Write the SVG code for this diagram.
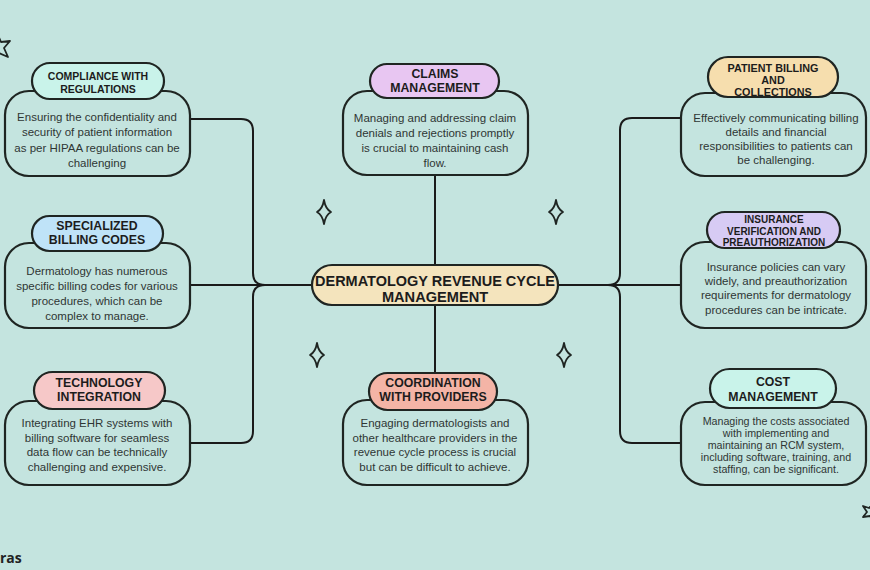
<svg xmlns="http://www.w3.org/2000/svg" width="870" height="570" viewBox="0 0 870 570">
<defs>
<style>
.bg{fill:#C4E4DF}
.body{fill:#C4E4DF;stroke:#1f2522;stroke-width:2.2}
.hdr{stroke:#1f2522;stroke-width:2.2}
.ht{font-family:"Liberation Sans",Arial,sans-serif;font-weight:700;fill:#1c1c1c;text-anchor:middle;dominant-baseline:central}
.bt{font-family:"Liberation Sans",Arial,sans-serif;font-size:11.5px;fill:#2f3634;text-anchor:middle;dominant-baseline:central}
.sm{font-size:10.7px}
.ln{fill:none;stroke:#1a1a1a;stroke-width:2}
.spk{fill:none;stroke:#1f2522;stroke-width:1.8;stroke-linejoin:round}
</style>
<path id="sparkle" d="M0,-12 Q1.5,-3 7,0 Q1.5,3 0,12 Q-1.5,3 -7,0 Q-1.5,-3 0,-12 Z"/>
</defs>
<rect class="bg" x="0" y="0" width="870" height="570"/>

<g id="connectors">
<line class="ln" x1="435" y1="175" x2="435" y2="266"/>
<line class="ln" x1="435" y1="304" x2="435" y2="374"/>
<line class="ln" x1="190" y1="285" x2="313" y2="285"/>
<line class="ln" x1="557" y1="285" x2="680" y2="285"/>
<path class="ln" d="M190,119 H241 Q253,119 253,131 V273 Q253,285 265,285"/>
<path class="ln" d="M190,443 H241 Q253,443 253,431 V297 Q253,285 265,285"/>
<path class="ln" d="M680,118 H632 Q620,118 620,130 V273 Q620,285 608,285"/>
<path class="ln" d="M680,443 H632 Q620,443 620,431 V297 Q620,285 608,285"/>
</g>

<g id="center">
<rect x="312" y="265" width="246" height="40" rx="20" fill="#F4E4BD" stroke="#1f2522" stroke-width="2.2"/>
<text class="ht" x="435" y="281" font-size="14.6" textLength="240" lengthAdjust="spacingAndGlyphs">DERMATOLOGY REVENUE CYCLE</text>
<text class="ht" x="435" y="297" font-size="14.6">MANAGEMENT</text>
</g>

<g id="compliance">
<rect class="body" x="5" y="91" width="185" height="85" rx="24"/>
<rect class="hdr" x="32" y="63" width="132" height="36" rx="18" fill="#C9F3EA"/>
<text class="ht" x="98" y="76" font-size="10.5">COMPLIANCE WITH</text>
<text class="ht" x="98" y="89" font-size="10.5">REGULATIONS</text>
<text class="bt" x="97" y="117">Ensuring the confidentiality and</text>
<text class="bt" x="97" y="132">security of patient information</text>
<text class="bt" x="97" y="148">as per HIPAA regulations can be</text>
<text class="bt" x="97" y="163">challenging</text>
</g>

<g id="claims">
<rect class="body" x="343" y="91" width="185" height="84" rx="24"/>
<rect class="hdr" x="370" y="64" width="129" height="34" rx="17" fill="#E8C6F2"/>
<text class="ht" x="435" y="74" font-size="12.3">CLAIMS</text>
<text class="ht" x="435" y="88" font-size="12.3">MANAGEMENT</text>
<text class="bt" x="435" y="118">Managing and addressing claim</text>
<text class="bt" x="435" y="133">denials and rejections promptly</text>
<text class="bt" x="435" y="148">is crucial to maintaining cash</text>
<text class="bt" x="435" y="163">flow.</text>
</g>

<g id="patient-billing">
<rect class="body" x="681" y="93" width="185" height="83" rx="24"/>
<rect class="hdr" x="708" y="57" width="130" height="40" rx="20" fill="#F6DEAE"/>
<text class="ht" x="773" y="67.5" font-size="10.8">PATIENT BILLING</text>
<text class="ht" x="773" y="79.5" font-size="10.8">AND</text>
<text class="ht" x="773" y="91.5" font-size="10.8">COLLECTIONS</text>
<text class="bt" x="776" y="118">Effectively communicating billing</text>
<text class="bt" x="776" y="132">details and financial</text>
<text class="bt" x="776" y="146">responsibilities to patients can</text>
<text class="bt" x="776" y="160">be challenging.</text>
</g>

<g id="specialized">
<rect class="body" x="5" y="243" width="185" height="85" rx="24"/>
<rect class="hdr" x="32" y="216" width="131" height="35" rx="17.5" fill="#BFE3F8"/>
<text class="ht" x="97" y="226" font-size="12.3">SPECIALIZED</text>
<text class="ht" x="97" y="239.5" font-size="12.3">BILLING CODES</text>
<text class="bt" x="97" y="271">Dermatology has numerous</text>
<text class="bt" x="97" y="286">specific billing codes for various</text>
<text class="bt" x="97" y="301">procedures, which can be</text>
<text class="bt" x="97" y="316">complex to manage.</text>
</g>

<g id="insurance">
<rect class="body" x="681" y="242" width="185" height="86" rx="24"/>
<rect class="hdr" x="707" y="212" width="133" height="36" rx="18" fill="#D7CBF4"/>
<text class="ht" x="774" y="219" font-size="10">INSURANCE</text>
<text class="ht" x="774" y="231" font-size="10">VERIFICATION AND</text>
<text class="ht" x="774" y="242.5" font-size="10">PREAUTHORIZATION</text>
<text class="bt" x="776" y="267">Insurance policies can vary</text>
<text class="bt" x="776" y="281">widely, and preauthorization</text>
<text class="bt" x="776" y="295">requirements for dermatology</text>
<text class="bt" x="776" y="310">procedures can be intricate.</text>
</g>

<g id="technology">
<rect class="body" x="5" y="401" width="185" height="84" rx="24"/>
<rect class="hdr" x="34" y="372" width="131" height="37" rx="18.5" fill="#F6C8C8"/>
<text class="ht" x="99" y="383" font-size="12.3">TECHNOLOGY</text>
<text class="ht" x="99" y="397" font-size="12.3">INTEGRATION</text>
<text class="bt" x="97" y="423">Integrating EHR systems with</text>
<text class="bt" x="97" y="438">billing software for seamless</text>
<text class="bt" x="97" y="452">data flow can be technically</text>
<text class="bt" x="97" y="467">challenging and expensive.</text>
</g>

<g id="coordination">
<rect class="body" x="343" y="400" width="185" height="85" rx="24"/>
<rect class="hdr" x="369" y="373" width="128" height="37" rx="18.5" fill="#F4B4A6"/>
<text class="ht" x="433" y="382.5" font-size="12.3">COORDINATION</text>
<text class="ht" x="433" y="397" font-size="12.3">WITH PROVIDERS</text>
<text class="bt" x="435" y="423">Engaging dermatologists and</text>
<text class="bt" x="435" y="438">other healthcare providers in the</text>
<text class="bt" x="435" y="452">revenue cycle process is crucial</text>
<text class="bt" x="435" y="467">but can be difficult to achieve.</text>
</g>

<g id="cost">
<rect class="body" x="681" y="402" width="185" height="83" rx="24"/>
<rect class="hdr" x="710" y="369" width="126" height="39" rx="19.5" fill="#C9F3EA"/>
<text class="ht" x="773" y="382" font-size="12.3">COST</text>
<text class="ht" x="773" y="397" font-size="12.3">MANAGEMENT</text>
<text class="bt sm" x="776" y="421">Managing the costs associated</text>
<text class="bt sm" x="776" y="433">with implementing and</text>
<text class="bt sm" x="776" y="445">maintaining an RCM system,</text>
<text class="bt sm" x="776" y="457">including software, training, and</text>
<text class="bt sm" x="776" y="469">staffing, can be significant.</text>
</g>

<g id="decor">
<use href="#sparkle" class="spk" x="324" y="212"/>
<use href="#sparkle" class="spk" x="556" y="212"/>
<use href="#sparkle" class="spk" x="317" y="355"/>
<use href="#sparkle" class="spk" x="564" y="355"/>
<path class="spk" fill="#ffffff" d="M-3,33 L1,42 L10,41 L4,48 L8,57 L-1,53 L-8,59 L-7,50 L-14,44 L-5,42 Z"/>
<path class="spk" fill="#ffffff" d="M874,503 L875,510 L881,512 L875,515 L874,522 L870,516 L863,517 L867,512 L863,506 L869,508 Z"/>
<text x="0" y="563" font-family="'Open Sans','Liberation Sans',sans-serif" font-weight="700" font-size="14" fill="#222">ras</text>
</g>
</svg>
